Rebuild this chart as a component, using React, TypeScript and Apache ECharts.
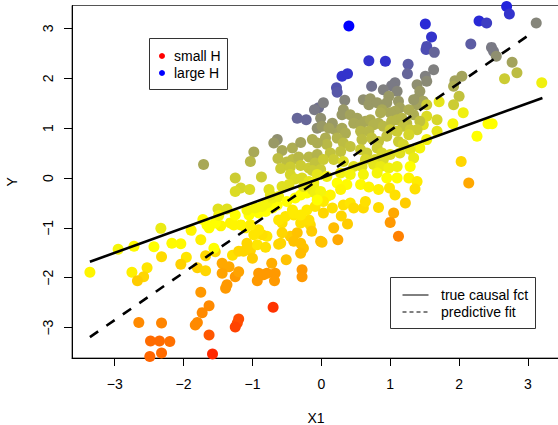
import React, { useEffect, useRef } from "react";
import * as echarts from "echarts";

// ---- data ----
const x1Values = [
  -3.36, -2.95, -2.72, -2.43, -2.33, -2.17, -2.04, -1.89, -1.72, -1.75,
  -2.32, -1.96, -2.04, -2.53, -2.75, -2.58, -2.67, -1.80, -1.68, -1.75,
  -1.63, -1.73, -1.80, -1.83, -2.65, -2.32, -2.48, -2.35, -2.20, -2.49,
  -2.32, -1.63, -1.58, -1.68, -1.71, -1.54, -1.56, -1.44, -1.34, -1.44,
  -1.25, -1.20, -1.39, -1.37, -1.20, -1.22, -1.25, -0.70, -1.29, -1.20,
  -1.13, -1.03, -1.00, -0.93, -0.81, -0.91, -0.93, -0.84, -0.79, -0.67,
  -0.68, -0.72, -0.62, -0.51, -0.28, -0.28, -0.45, -0.35, -0.40, -0.30,
  -0.26, -0.30, -0.01, -0.16, -0.18, -0.30, -0.40, -0.57, -0.62, -0.79,
  -0.86, -0.98, -0.91, -1.03, -1.10, -1.17, -1.27, -1.32, -1.46, -1.54,
  -1.63, -1.66, -1.08, -1.50, -1.37, -1.25, -1.05, -0.91, -0.81, -0.71,
  -0.64, -0.52, -0.40, -0.30, -0.21, -0.09, -1.08, -0.96, -0.86, -0.79,
  -0.71, -0.62, -0.50, -0.38, -0.30, -0.21, -0.11, -1.25, -1.17, -1.25,
  -1.04, -0.98, -1.03, -0.87, -0.76, -0.74, -0.64, -0.69, -0.57, -0.42,
  -0.30, -0.63, -0.50, -0.42, -0.33, -0.18, -0.06, -0.59, -0.45, -0.30,
  -0.18, -0.09, -0.45, -0.38, -0.57, -0.47, -0.28, -0.13, -0.01, -0.26,
  -0.18, -0.13, -0.09, -0.35, -0.22, -0.04, -0.06, 0.40, 0.69, 0.93,
  1.26, 1.25, 0.30, 0.38, 0.22, 0.23, 0.73, 1.07, 1.02, 0.90,
  1.10, 1.51, 1.60, 1.53, 1.52, 1.64, 1.63, 2.29, 2.40, 2.69,
  2.73, 3.12, 2.17, 2.47, 2.50, 2.54, 2.77, 2.84, 2.66, 3.20,
  1.39, 1.51, 1.53, 1.43, 1.41, 1.48, 1.39, 1.94, 2.04, 1.92,
  2.00, 1.92, 1.71, 2.06, 1.53, 1.53, 1.68, 1.48, 1.91, 1.68,
  1.53, 1.43, 2.42, 2.48, 2.26, 2.03, 2.14, 0.03, -0.10, 0.34,
  0.61, 0.71, 0.69, 0.81, 0.98, 0.95, 1.12, 1.14, 1.07, 1.00,
  0.88, 1.34, 1.27, 1.34, 0.32, 0.30, 0.42, 0.52, 0.47, 0.57,
  0.64, 0.71, 0.76, 0.86, 0.83, 0.90, 1.02, 1.10, 1.17, 1.24,
  1.19, 1.43, 1.39, 1.29, 1.27, 1.10, 1.00, -0.01, 0.01, 0.20,
  0.16, 0.11, 0.30, 0.35, 0.23, 0.57, 0.59, 0.69, 0.73, 0.83,
  0.95, 1.12, 1.19, 0.06, 0.08, -0.06, -0.13, 0.32, 0.42, 0.28,
  0.13, 0.18, 0.03, 0.57, 0.66, 0.81, 0.88, 1.00, 0.90, 0.78,
  0.64, 1.14, 1.29, 1.34, 0.32, 0.47, 0.59, 0.76, 0.86, 0.98,
  1.10, 1.29, 1.27, 1.39, -0.06, 0.08, 0.28, 0.42, 0.61, 0.81,
  0.95, 1.10, 0.23, 0.37, 0.57, 0.69, 0.83, 0.99, 1.07, 1.36,
  1.22, 1.05, 1.00, 1.12, 0.01, 0.24, 0.18, 0.38, 0.29, 0.03,
  0.16, 0.32, 0.42, 0.47, 0.61, 0.64, 0.83, 0.13, 0.28, 0.08,
  0.03, -0.11, -0.01, -0.06, -0.42, -0.14, -0.57, -0.59, -1.49
];

const yValues = [
  -1.89, -1.43, -1.37, -1.38, -1.01, -1.31, -1.32, -1.05, -0.83, -1.24,
  -1.58, -1.59, -1.73, -1.80, -1.89, -1.98, -2.06, -1.80, -1.56, -2.29,
  -2.56, -2.70, -2.90, -2.95, -2.90, -2.91, -3.27, -3.27, -3.28, -3.58,
  -3.51, -3.15, -3.53, -1.86, 0.27, -1.48, -1.41, -1.71, -1.78, -1.91,
  -1.98, -1.88, -2.21, -2.14, -2.83, -2.91, -2.99, -2.59, -1.55, -1.47,
  -1.47, -1.45, -1.61, -1.34, -1.39, -1.91, -2.06, -1.94, -1.91, -1.91,
  -2.06, -1.71, -1.33, -1.64, -1.84, -1.98, -1.17, -1.10, -1.27, -1.31,
  -1.41, -1.51, -1.27, -0.94, -0.84, -0.90, -0.74, -0.90, -0.84, -1.17,
  -1.14, -1.14, -1.04, -0.94, -1.00, -0.94, -0.94, -0.90, -0.96, -0.90,
  -1.00, -0.94, -1.31, -0.62, -0.62, -0.74, -0.74, -0.70, -0.67, -0.60,
  -0.54, -0.77, -0.70, -0.74, -0.64, -0.57, -0.64, -0.60, -0.57, -0.50,
  -0.40, -0.37, -0.47, -0.40, -0.34, -0.30, -0.17, 0.00, -0.20, -0.27,
  -0.23, 0.52, 0.33, 0.02, -0.23, -0.34, 0.77, 0.70, 0.55, 0.60,
  0.71, 0.39, 0.32, 0.37, 0.42, 0.42, 0.47, 0.19, 0.22, 0.25,
  0.20, 0.30, 0.07, -0.02, -0.17, -0.13, 0.00, 0.15, 0.17, -0.17,
  -0.07, -0.23, -0.30, 1.20, 1.17, 1.41, 1.00, 3.05, 2.35, 2.34,
  2.28, 2.09, 2.04, 2.09, 1.81, 1.72, 1.84, 1.91, 1.85, 1.77,
  1.74, 3.09, 2.83, 2.64, 2.58, 2.52, 2.17, 3.15, 3.11, 3.44,
  3.29, 3.11, 2.69, 2.62, 2.54, 2.44, 2.32, 2.11, 1.99, 1.91,
  1.87, 2.04, 1.94, 1.74, 1.61, 1.54, 1.47, 1.95, 2.04, 1.84,
  1.64, 1.47, 1.53, 1.31, 1.47, 1.24, 1.17, 1.07, 1.09, 0.94,
  0.77, 0.60, 1.09, 1.09, 0.84, 0.33, -0.10, 1.51, 1.37, 1.56,
  1.57, 1.59, 1.47, 1.51, 1.64, 1.51, 1.54, 1.41, 1.34, 1.31,
  1.37, 1.57, 1.37, 1.27, 1.37, 1.27, 1.27, 1.20, 1.10, 1.07,
  1.14, 1.17, 1.07, 1.31, 1.10, 1.04, 1.14, 1.17, 1.20, 1.10,
  1.04, 1.14, 0.97, 0.97, 0.87, 0.94, 0.97, 1.20, 1.04, 0.97,
  1.10, 1.00, 1.00, 0.90, 0.80, 0.94, 0.77, 0.94, 0.80, 0.73,
  0.84, 0.73, 0.67, 0.80, 0.67, 0.70, 0.77, 0.70, 0.63, 0.53,
  0.50, 0.37, 0.37, 0.57, 0.50, 0.60, 0.50, 0.47, 0.37, 0.37,
  0.37, 0.50, 0.57, 0.40, 0.33, 0.23, 0.23, 0.27, 0.23, 0.20,
  0.23, 0.23, 0.00, -0.07, 0.07, 0.03, 0.10, 0.07, 0.07, 0.10,
  0.00, 0.00, -0.10, -0.13, -0.13, -0.18, -0.23, -0.20, -0.34, -0.22,
  -0.50, -0.70, -0.89, -1.17, -1.29, -1.24, -1.00, -0.92, -0.76, -0.70,
  -0.60, -0.54, -0.50, -0.60, -0.60, -0.47, -0.59, -0.34, -0.23, -0.37,
  -0.47, -0.10, -0.27, -0.44, -0.64, -1.07, -1.10, -1.31, -0.75
];

const hValues = [
  0.48, 0.52, 0.49, 0.50, 0.54, 0.49, 0.49, 0.48, 0.49, 0.47,
  0.43, 0.45, 0.41, 0.45, 0.47, 0.42, 0.40, 0.41, 0.42, 0.30,
  0.27, 0.27, 0.27, 0.27, 0.27, 0.26, 0.21, 0.21, 0.22, 0.20,
  0.21, 0.17, 0.08, 0.42, 0.67, 0.43, 0.50, 0.33, 0.33, 0.32,
  0.30, 0.32, 0.30, 0.30, 0.15, 0.15, 0.13, 0.10, 0.44, 0.42,
  0.42, 0.42, 0.40, 0.45, 0.44, 0.30, 0.30, 0.30, 0.30, 0.30,
  0.30, 0.34, 0.42, 0.38, 0.30, 0.30, 0.40, 0.38, 0.38, 0.38,
  0.38, 0.37, 0.37, 0.43, 0.44, 0.44, 0.45, 0.44, 0.45, 0.45,
  0.44, 0.45, 0.45, 0.47, 0.47, 0.48, 0.48, 0.48, 0.48, 0.50,
  0.50, 0.50, 0.42, 0.56, 0.56, 0.50, 0.50, 0.50, 0.50, 0.50,
  0.50, 0.45, 0.46, 0.46, 0.46, 0.45, 0.52, 0.52, 0.52, 0.52,
  0.53, 0.53, 0.50, 0.50, 0.50, 0.50, 0.52, 0.60, 0.58, 0.57,
  0.57, 0.67, 0.64, 0.60, 0.56, 0.55, 0.72, 0.70, 0.67, 0.66,
  0.68, 0.63, 0.63, 0.63, 0.64, 0.64, 0.65, 0.60, 0.60, 0.60,
  0.60, 0.62, 0.58, 0.57, 0.56, 0.56, 0.57, 0.60, 0.60, 0.55,
  0.55, 0.54, 0.53, 0.80, 0.80, 0.78, 0.72, 1.00, 0.90, 0.90,
  0.82, 0.80, 0.90, 0.90, 0.84, 0.83, 0.78, 0.76, 0.76, 0.75,
  0.74, 0.92, 0.90, 0.85, 0.85, 0.80, 0.75, 0.92, 0.88, 0.93,
  0.90, 0.74, 0.82, 0.76, 0.76, 0.72, 0.68, 0.63, 0.60, 0.53,
  0.72, 0.75, 0.73, 0.70, 0.70, 0.68, 0.68, 0.68, 0.68, 0.66,
  0.62, 0.60, 0.55, 0.53, 0.60, 0.57, 0.58, 0.56, 0.52, 0.55,
  0.53, 0.52, 0.50, 0.50, 0.50, 0.42, 0.33, 0.75, 0.76, 0.74,
  0.72, 0.70, 0.70, 0.70, 0.70, 0.70, 0.70, 0.68, 0.67, 0.67,
  0.67, 0.70, 0.66, 0.66, 0.70, 0.70, 0.68, 0.68, 0.67, 0.67,
  0.67, 0.66, 0.65, 0.66, 0.65, 0.64, 0.64, 0.64, 0.64, 0.63,
  0.62, 0.62, 0.60, 0.60, 0.58, 0.60, 0.60, 0.72, 0.70, 0.68,
  0.70, 0.68, 0.67, 0.66, 0.65, 0.64, 0.63, 0.64, 0.62, 0.62,
  0.62, 0.60, 0.58, 0.66, 0.64, 0.66, 0.66, 0.63, 0.62, 0.62,
  0.62, 0.60, 0.60, 0.60, 0.60, 0.60, 0.58, 0.57, 0.57, 0.58,
  0.58, 0.56, 0.55, 0.54, 0.57, 0.56, 0.56, 0.55, 0.54, 0.53,
  0.53, 0.50, 0.48, 0.46, 0.55, 0.53, 0.53, 0.52, 0.52, 0.52,
  0.50, 0.50, 0.50, 0.49, 0.49, 0.48, 0.47, 0.45, 0.44, 0.44,
  0.40, 0.33, 0.30, 0.25, 0.38, 0.33, 0.37, 0.40, 0.42, 0.42,
  0.44, 0.44, 0.45, 0.43, 0.43, 0.44, 0.43, 0.48, 0.48, 0.48,
  0.46, 0.53, 0.52, 0.50, 0.46, 0.40, 0.42, 0.42, 0.52
];

const xTicks = [-3, -2, -1, 0, 1, 2, 3];
const yTicks = [-3, -2, -1, 0, 1, 2, 3];

// line endpoints
const causalLineX = [-3.36, 3.21];
const causalLineY = [-1.68, 1.605];
const fitLineX = [-3.36, 3.08];
const fitLineY = [-3.19, 2.93];

const hLegend = ["small H", "large H"];
const lineLegend = ["true causal fct", "predictive fit"];

const FONT = "'Liberation Sans', Arial, Helvetica, sans-serif";
const FS = 14;
const fmt = (v: number) => String(v).replace("-", "\u2212");

export default function App() {
  const ref = useRef<HTMLDivElement>(null);
  useEffect(() => {
    if (!ref.current) return;
    const chart = echarts.init(ref.current, undefined, { renderer: "svg" });
    const points = x1Values.map((x, i) => [x, yValues[i], hValues[i]]);
    const axisCommon = {
      type: "value" as const,
      splitLine: { show: false },
      axisLine: { show: true, onZero: false, lineStyle: { color: "#000", width: 1 } },
      nameLocation: "middle" as const,
      nameTextStyle: { fontSize: FS, color: "#000", fontFamily: FONT },
    };
    const txt = (text: string, x: number, y: number) => ({
      type: "text",
      x,
      y,
      style: { text, fontSize: FS, fontFamily: FONT, fill: "#000", verticalAlign: "middle" },
    });
    chart.setOption({
      animation: false,
      backgroundColor: "#fff",
      grid: {
        left: 72,
        top: 5.5,
        right: -2,
        bottom: 67,
        containLabel: false,
        outerBoundsMode: "none",
        show: true,
        borderColor: "#555",
        borderWidth: 1,
      },
      xAxis: {
        ...axisCommon,
        min: -3.62,
        max: 3.465,
        name: "X1",
        nameGap: 53,
        axisTick: { show: true, inside: false, length: 8, customValues: xTicks, lineStyle: { color: "#000" } },
        axisLabel: { customValues: xTicks, margin: 19, fontSize: FS, color: "#000", fontFamily: FONT, formatter: fmt },
      },
      yAxis: {
        ...axisCommon,
        min: -3.61,
        max: 3.46,
        name: "Y",
        nameGap: 53,
        nameRotate: 90,
        axisTick: { show: true, inside: false, length: 8, customValues: yTicks, lineStyle: { color: "#000" } },
        axisLabel: { customValues: yTicks, margin: 17, rotate: 90, fontSize: FS, color: "#000", fontFamily: FONT, formatter: fmt },
      },
      visualMap: {
        show: false,
        type: "continuous",
        dimension: 2,
        seriesIndex: 0,
        min: 0,
        max: 1,
        inRange: { color: ["#FF0000", "#FFFF00", "#0000FF"] },
      },
      series: [
        {
          type: "scatter",
          data: points,
          symbol: "circle",
          symbolSize: 11,
          itemStyle: { opacity: 1 },
          z: 2,
        },
        {
          type: "line",
          data: causalLineX.map((x, i) => [x, causalLineY[i]]),
          symbol: "none",
          lineStyle: { color: "#000", width: 2.6, type: "solid" },
          z: 3,
        },
        {
          type: "line",
          data: fitLineX.map((x, i) => [x, fitLineY[i]]),
          symbol: "none",
          lineStyle: { color: "#000", width: 2.6, type: [10, 10] },
          z: 3,
        },
      ],
      graphic: [
        {
          type: "group",
          z: 10,
          children: [
            { type: "rect", shape: { x: 149.5, y: 38.5, width: 78, height: 51 }, style: { fill: "#fff", stroke: "#333", lineWidth: 1 } },
            { type: "circle", shape: { cx: 162, cy: 56, r: 3 }, style: { fill: "#FF0000" } },
            { type: "circle", shape: { cx: 162, cy: 73, r: 3 }, style: { fill: "#0000FF" } },
            txt(hLegend[0], 174, 56),
            txt(hLegend[1], 174, 73),
            { type: "rect", shape: { x: 390.5, y: 277.5, width: 145, height: 51 }, style: { fill: "#fff", stroke: "#333", lineWidth: 1 } },
            { type: "line", shape: { x1: 402.5, y1: 295, x2: 428.5, y2: 295 }, style: { stroke: "#000", lineWidth: 1 } },
            { type: "line", shape: { x1: 402.5, y1: 312, x2: 428.5, y2: 312 }, style: { stroke: "#000", lineWidth: 1, lineDash: [4, 3] } },
            txt(lineLegend[0], 441, 295),
            txt(lineLegend[1], 441, 312),
          ],
        },
      ],
    });
    return () => chart.dispose();
  }, []);
  return (
    <div
      ref={ref}
      style={{ position: "fixed", left: 0, top: 0, width: 558, height: 425, background: "#fff" }}
    />
  );
}
